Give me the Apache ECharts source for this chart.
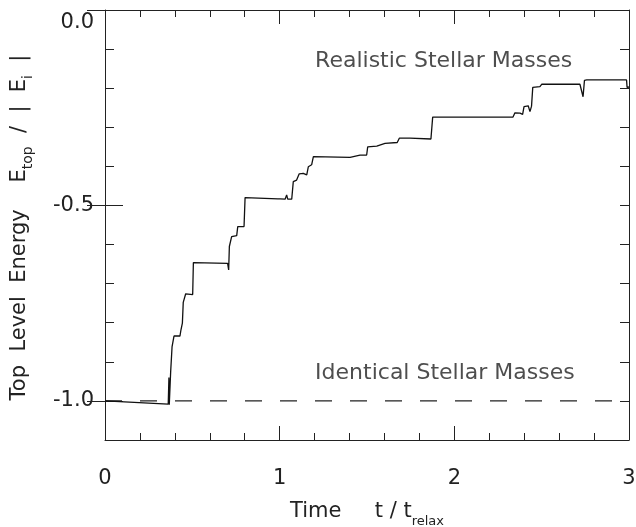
<!DOCTYPE html>
<html>
<head>
<meta charset="utf-8">
<script src="https://cdn.jsdelivr.net/npm/echarts@6/dist/echarts.min.js"></script>
<style>
  html, body { margin: 0; padding: 0; background: #fff; }
  #chart { width: 636px; height: 527px; }
</style>
</head>
<body>
<div id="chart"></div>
<script>
  // time in units of t_relax
  const timeVals = [
    0, 0.362, 0.366, 0.368, 0.376, 0.384, 0.395, 0.429, 0.435, 0.443,
    0.448, 0.456, 0.462, 0.502, 0.506, 0.702, 0.708, 0.712, 0.725, 0.754,
    0.760, 0.796, 0.802, 0.990, 0.998, 1.002, 1.031, 1.040, 1.046, 1.069,
    1.078, 1.097, 1.107, 1.112, 1.135, 1.145, 1.155, 1.164, 1.183, 1.193,
    1.403, 1.412, 1.460, 1.498, 1.504, 1.556, 1.565, 1.603, 1.673, 1.685,
    1.746, 1.756, 1.866, 1.876, 2.336, 2.347, 2.376, 2.391, 2.399, 2.423,
    2.433, 2.442, 2.449, 2.490, 2.500, 2.719, 2.729, 2.737, 2.745, 2.758,
    2.986, 2.989, 3.0
  ]
  // top level energy E_top/|E_i| for realistic stellar masses
  const realisticEnergy = [
    -1.000, -1.008, -0.940, -1.010, -0.925, -0.861, -0.834, -0.834, -0.818, -0.801,
    -0.748, -0.748, -0.726, -0.728, -0.646, -0.648, -0.665, -0.605, -0.580, -0.577,
    -0.554, -0.554, -0.480, -0.483, -0.478, -0.483, -0.484, -0.473, -0.484, -0.484,
    -0.439, -0.435, -0.430, -0.419, -0.418, -0.422, -0.422, -0.401, -0.396, -0.375,
    -0.377, -0.373, -0.371, -0.371, -0.350, -0.348, -0.343, -0.341, -0.339, -0.328,
    -0.328, -0.326, -0.330, -0.274, -0.274, -0.263, -0.264, -0.267, -0.247, -0.245,
    -0.260, -0.246, -0.198, -0.196, -0.190, -0.190, -0.186, -0.222, -0.180, -0.179,
    -0.179, -0.198, -0.197
  ]
  // identical stellar masses stay at -1
  const identicalTime = [0, 3]
  const identicalEnergy = [-1, -1]

  // annotations (data coordinates)
  const noteNames = ['Realistic Stellar Masses', 'Identical Stellar Masses']
  const noteX = [1.203, 1.203]
  const noteY = [-0.132, -0.930]

  const xTickLabels = ['0', '1', '2', '3']
  const yTickValues = [0, -0.5, -1.0]
  const yTickLabels = ['0.0', '-0.5', '-1.0']

  const ink = '#222'
  const font = 'DejaVu Sans, Liberation Sans, Arial, sans-serif'

  const chart = echarts.init(document.getElementById('chart'))

  const baseX = {
    type: 'value',
    min: 0,
    max: 3,
    interval: 1,
    axisLine: { show: true, onZero: false, lineStyle: { color: ink, width: 1 } },
    axisTick: { show: true, inside: true, length: 14, lineStyle: { color: ink } },
    minorTick: { show: true, splitNumber: 5, length: 7, lineStyle: { color: ink } },
    splitLine: { show: false },
    minorSplitLine: { show: false }
  }

  // minor ticks every 0.1 (data axis)
  const minorY = (pos) => ({
    type: 'value',
    position: pos,
    min: -1.1,
    max: 0,
    interval: 0.1,
    axisLine: { show: true, onZero: false, lineStyle: { color: ink, width: 1 } },
    axisTick: { show: true, inside: true, length: 9, lineStyle: { color: ink } },
    axisLabel: { show: false },
    splitLine: { show: false }
  })
  // longer ticks + labels at 0, -0.5, -1.0
  const majorY = (pos, labels) => ({
    type: 'value',
    position: pos,
    min: -1.1,
    max: 0,
    axisLine: { show: false },
    axisTick: { show: true, inside: true, length: 18, customValues: yTickValues, lineStyle: { color: ink } },
    axisLabel: {
      show: labels,
      customValues: yTickValues,
      margin: 11,
      color: ink,
      fontFamily: font,
      fontSize: 21,
      formatter: (v) => {
        const i = yTickValues.findIndex((t) => Math.abs(t - v) < 1e-6)
        if (i < 0) return ''
        return i === 0 ? '{top|' + yTickLabels[0] + '}' : yTickLabels[i]
      },
      rich: {
        top: { fontFamily: font, fontSize: 21, color: ink, padding: [25, 0, 0, 0] }
      }
    },
    splitLine: { show: false }
  })

  const option = {
    animation: false,
    backgroundColor: '#fff',
    grid: { left: 105, right: 7, top: 10, bottom: 87, containLabel: false, outerBoundsMode: 'none' },
    xAxis: [
      Object.assign({}, baseX, {
        position: 'bottom',
        axisLabel: {
          margin: 28,
          color: ink,
          fontFamily: font,
          fontSize: 21,
          formatter: (v) => xTickLabels[Math.round(v)] ?? ''
        },
        name: 'Time     t / t{sub|relax}',
        nameLocation: 'middle',
        nameGap: 56,
        nameTextStyle: {
          color: ink,
          fontFamily: font,
          fontSize: 21,
          rich: { sub: { fontFamily: font, fontSize: 13, color: ink, padding: [19, 0, 0, 0] } }
        }
      }),
      Object.assign({}, baseX, { position: 'top', axisLabel: { show: false } })
    ],
    yAxis: [
      Object.assign(minorY('left'), {
        name: 'Top  Level  Energy    E{sub|top}  /  |  E{sub|i}  |',
        nameLocation: 'middle',
        nameRotate: 90,
        nameGap: 70,
        nameTextStyle: {
          color: ink,
          fontFamily: font,
          fontSize: 21,
          padding: [0, 5, 0, 0],
          rich: { sub: { fontFamily: font, fontSize: 14, color: ink, padding: [16, 0, 0, 0] } }
        }
      }),
      majorY('left', true),
      minorY('right'),
      majorY('right', false)
    ],
    series: [
      {
        name: 'Identical Stellar Masses',
        type: 'line',
        xAxisIndex: 0,
        yAxisIndex: 0,
        showSymbol: false,
        symbol: 'none',
        silent: true,
        lineStyle: { color: ink, width: 1.2, type: [17, 18] },
        data: identicalTime.map((t, i) => [t, identicalEnergy[i]])
      },
      {
        name: 'Realistic Stellar Masses',
        type: 'line',
        xAxisIndex: 0,
        yAxisIndex: 0,
        showSymbol: false,
        symbol: 'none',
        silent: true,
        lineStyle: { color: '#111', width: 1.3 },
        data: timeVals.map((t, i) => [t, realisticEnergy[i]])
      },
      {
        name: 'notes',
        type: 'scatter',
        xAxisIndex: 0,
        yAxisIndex: 0,
        symbolSize: 0,
        silent: true,
        label: {
          show: true,
          position: 'right',
          distance: 0,
          color: ink,
          fontFamily: font,
          fontSize: 22,
          formatter: (p) => p.name
        },
        data: noteNames.map((n, i) => ({ name: n, value: [noteX[i], noteY[i]] }))
      }
    ]
  }

  chart.setOption(option)
</script>
</body>
</html>
